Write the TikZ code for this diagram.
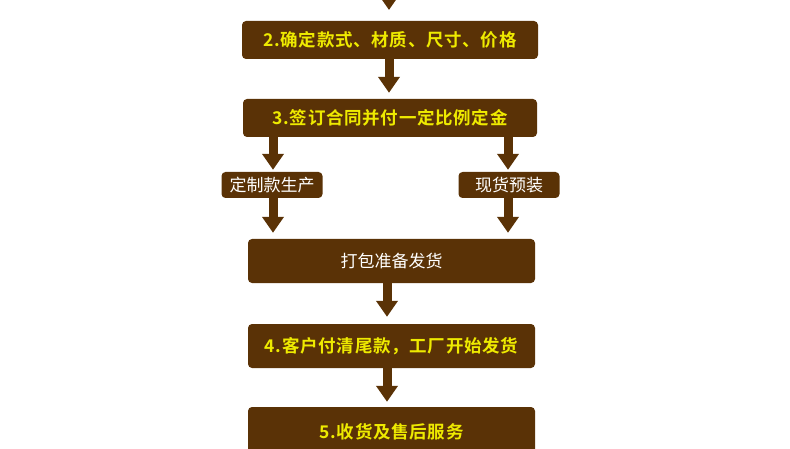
\documentclass[tikz,border=0pt]{standalone}
\usepackage{fontspec}
\newfontfamily\cjkb{Noto Sans CJK SC}
\newfontfamily\cjkbold{Noto Sans CJK SC Bold}
\usetikzlibrary{arrows.meta}
\definecolor{brn}{HTML}{5A3206}
\definecolor{ylw}{HTML}{EEEA00}
\begin{document}
\begin{tikzpicture}[x=1pt,y=-1pt,
  bigbox/.style={fill=brn, rounded corners=4pt, inner sep=0pt, text=ylw,
    font=\cjkbold\fontsize{17.5}{19}\selectfont\addfontfeature{LetterSpace=4}},
  midbox/.style={fill=brn, rounded corners=4pt, inner sep=0pt, text=white,
    font=\cjkb\fontsize{17}{19}\selectfont},
  smallbox/.style={fill=brn, rounded corners=4pt, inner sep=0pt, text=white,
    font=\cjkb\fontsize{17}{19}\selectfont},
  flow/.style={draw=brn, line width=9pt, -{Triangle[width=21pt,length=16pt]}, brn}
]
\useasboundingbox (0,0) rectangle (790,449);
\node[bigbox, minimum width=296pt, minimum height=38pt] (b2) at (390,40) {2.确定款式、材质、尺寸、价格};
\node[bigbox, minimum width=294pt, minimum height=38pt] (b3) at (390,118) {3.签订合同并付一定比例定金};
\node[smallbox, minimum width=101pt, minimum height=26pt] (l) at (272,185) {定制款生产};
\node[smallbox, minimum width=101pt, minimum height=26pt] (r) at (509,185) {现货预装};
\node[midbox, minimum width=287pt, minimum height=44pt] (p) at (391.5,261) {打包准备发货};
\node[bigbox, minimum width=287pt, minimum height=44pt] (b4) at (391.5,346) {4.客户付清尾款，工厂开始发货};
\node[bigbox, minimum width=287pt, minimum height=50pt] (b5) at (391.5,432) {5.收货及售后服务};
\coordinate (top) at (389,-6);
\draw[flow] (top) -- (top |- 0,10);
\draw[flow, shorten >=6pt] (b2.south -| 389,0) -- (b3.north -| 389,0);
\draw[flow, shorten >=2pt] (b3.south -| 273,0) -- (l.north -| 273,0);
\draw[flow, shorten >=2pt] (b3.south -| 508,0) -- (r.north -| 508,0);
\draw[flow, shorten >=6pt] (l.south -| 273,0) -- (p.north -| 273,0);
\draw[flow, shorten >=6pt] (r.south -| 508,0) -- (p.north -| 508,0);
\draw[flow, shorten >=7pt] (p.south -| 387,0) -- (b4.north -| 387,0);
\draw[flow, shorten >=5pt] (b4.south -| 387,0) -- (b5.north -| 387,0);
\end{tikzpicture}
\end{document}
